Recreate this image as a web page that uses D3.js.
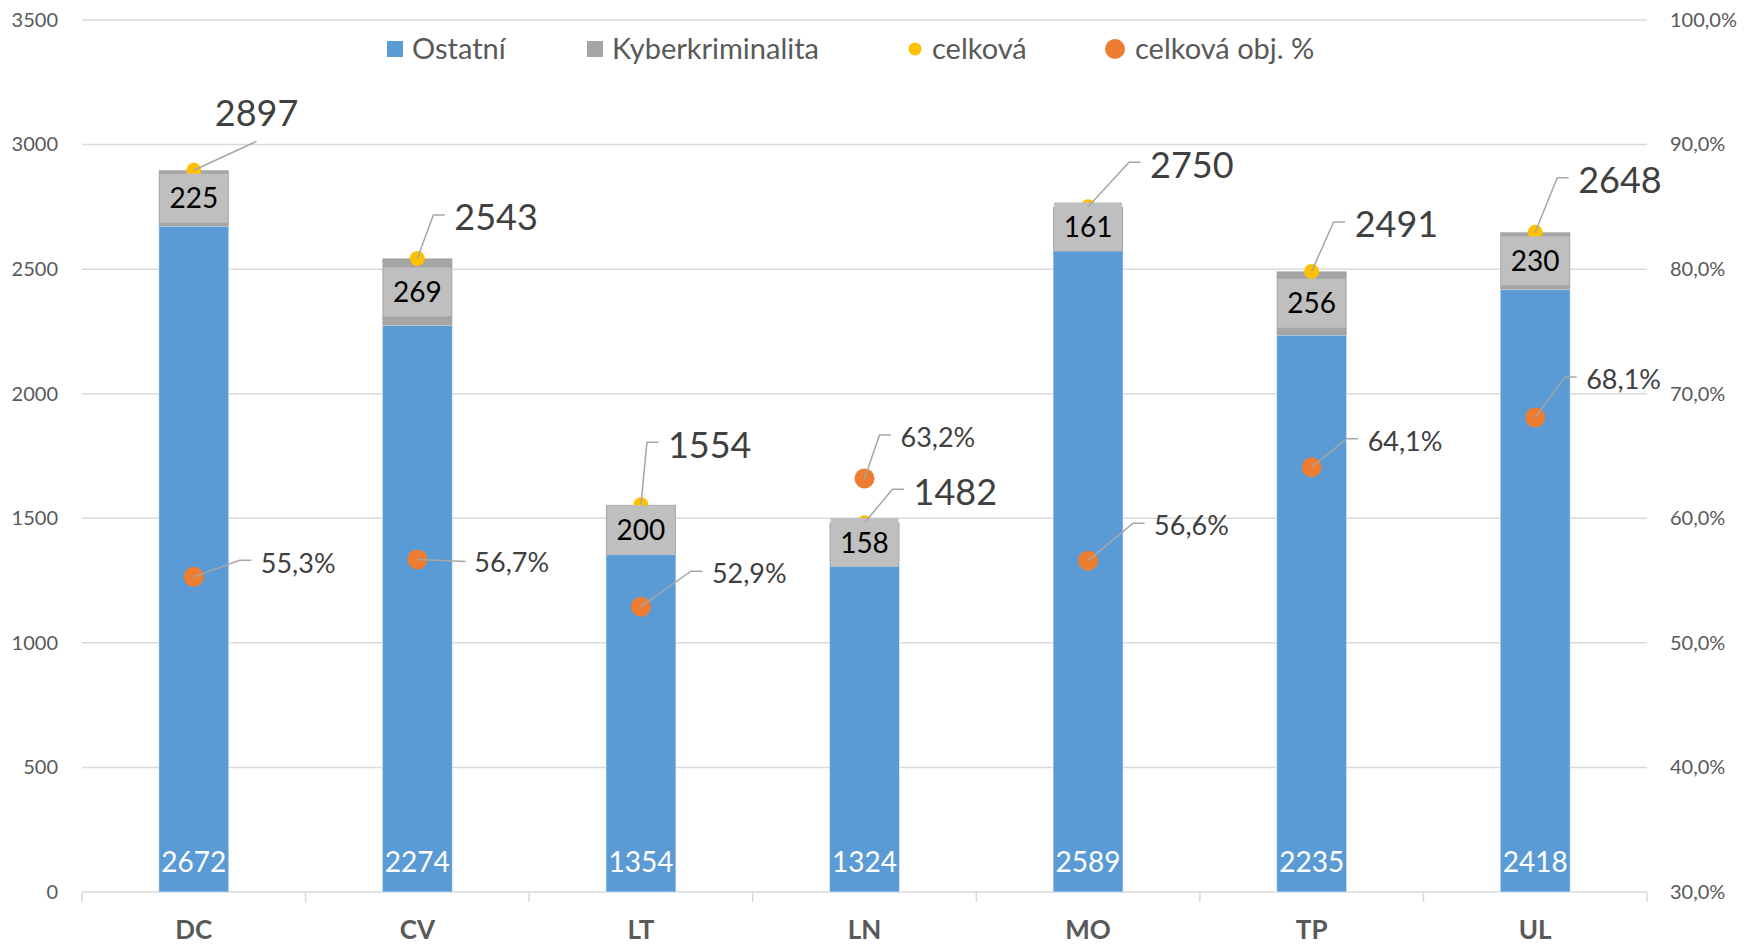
<!DOCTYPE html>
<html>
<head>
<meta charset="utf-8">
<script src="https://cdn.jsdelivr.net/npm/d3@7"></script>
<style>
  body { margin: 0; background: #fff; }
  svg { display: block; font-family: Lato, "Noto Sans", sans-serif; }
</style>
</head>
<body>
<div id="chart"></div>
<script>
//data
const categories = ['DC', 'CV', 'LT', 'LN', 'MO', 'TP', 'UL'];
const ostatni = [2672, 2274, 1354, 1324, 2589, 2235, 2418];
const kyber = [225, 269, 200, 158, 161, 256, 230];
const celkova = [2897, 2543, 1554, 1482, 2750, 2491, 2648];
const celkovaPct = [0.553, 0.567, 0.529, 0.632, 0.566, 0.641, 0.681];
const yTicks = [0, 500, 1000, 1500, 2000, 2500, 3000, 3500];
const y2Ticks = [0.3, 0.4, 0.5, 0.6, 0.7, 0.8, 0.9, 1.0];
const legendNames = ['Ostatní', 'Kyberkriminalita', 'celková', 'celková obj. %'];

//label placement (offset of text left/middle from its point, 's' = straight leader)
const totalOff = [[21, -57, 's'], [37, -41], [27, -60], [49, -31], [62, -42], [43, -47], [43, -52]];
const pctOff = [[67, -14], [57, 3, 's'], [71, -33], [36, -41], [66, -35], [56, -26], [51, -38]];

//specify d3 element attributes
const width = 1744;
const height = 946;
const margin = { top: 20, bottom: 54, left: 82, right: 97 };

const cz = d3.formatLocale({ decimal: ',', thousands: ' ', grouping: [3], currency: ['', ' Kč'] });
const pctFmt = cz.format('.1%');

const svg = d3.select('#chart')
  .append('svg')
  .attr('width', width)
  .attr('height', height)
  .attr('viewBox', [0, 0, width, height]);

//range x-axis
const x = d3.scaleBand()
  .domain(categories)
  .range([margin.left, width - margin.right])
  .paddingInner(0.687)
  .paddingOuter(0.3435);

//range y-axis (left: counts, right: percent)
const y = d3.scaleLinear()
  .domain([0, 3500])
  .range([height - margin.bottom, margin.top]);

const y2 = d3.scaleLinear()
  .domain([0.3, 1.0])
  .range([height - margin.bottom, margin.top]);

const cx = c => x(c) + x.bandwidth() / 2;

//gridlines
svg.append('g')
  .selectAll('line')
  .data(yTicks.slice(1))
  .join('line')
    .attr('x1', margin.left)
    .attr('x2', width - margin.right)
    .attr('y1', d => y(d))
    .attr('y2', d => y(d))
    .attr('stroke', '#d9d9d9')
    .attr('stroke-width', 1.5);

//design y-axis
const yAxis = (g) => {
  g.attr('transform', `translate(${margin.left}, 0)`)
    .call(d3.axisLeft(y).tickValues(yTicks).tickFormat(d3.format('d')).tickSize(0).tickPadding(24))
    .attr('font-size', '20px')
    .attr('font-family', 'Lato, sans-serif')
    .attr('color', '#595959')
    .call(g => g.select('.domain').remove());
}
const y2Axis = (g) => {
  g.attr('transform', `translate(${width - margin.right}, 0)`)
    .call(d3.axisRight(y2).tickValues(y2Ticks).tickFormat(pctFmt).tickSize(0).tickPadding(23))
    .attr('font-size', '20px')
    .attr('font-family', 'Lato, sans-serif')
    .attr('color', '#595959')
    .call(g => g.select('.domain').remove());
}
// design x-axis
const xAxis = (g) => {
  const step = x.step();
  g.attr('transform', `translate(0,${height - margin.bottom})`);
  g.append('line')
    .attr('x1', margin.left).attr('x2', width - margin.right)
    .attr('stroke', '#d9d9d9').attr('stroke-width', 1.5);
  g.selectAll('.tk')
    .data(d3.range(categories.length + 1))
    .join('line')
      .attr('class', 'tk')
      .attr('x1', i => margin.left + i * step)
      .attr('x2', i => margin.left + i * step)
      .attr('y2', 10)
      .attr('stroke', '#d9d9d9').attr('stroke-width', 1.5);
  g.selectAll('text')
    .data(categories)
    .join('text')
      .attr('x', d => cx(d))
      .attr('y', 38)
      .attr('dy', '0.36em')
      .attr('text-anchor', 'middle')
      .attr('font-size', '26px')
      .attr('font-weight', 'bold')
      .attr('fill', '#595959')
      .text(d => d);
}

svg.append('g').call(xAxis);
svg.append('g').call(yAxis);
svg.append('g').call(y2Axis);

//stacked bars
svg.append('g')
  .selectAll('rect')
  .data(categories)
  .join('rect')
    .attr('x', d => x(d))
    .attr('y', (d, i) => y(ostatni[i]))
    .attr('height', (d, i) => y(0) - y(ostatni[i]))
    .attr('width', x.bandwidth())
    .attr('fill', '#5b9bd5')
    .attr('stroke', '#fff')
    .attr('stroke-opacity', 0.5);

svg.append('g')
  .selectAll('rect')
  .data(categories)
  .join('rect')
    .attr('x', d => x(d))
    .attr('y', (d, i) => y(ostatni[i] + kyber[i]))
    .attr('height', (d, i) => y(ostatni[i]) - y(ostatni[i] + kyber[i]))
    .attr('width', x.bandwidth())
    .attr('fill', '#a5a5a5');

//celková points
svg.append('g')
  .selectAll('circle')
  .data(categories)
  .join('circle')
    .attr('cx', d => cx(d))
    .attr('cy', (d, i) => y(celkova[i]))
    .attr('r', 7.5)
    .attr('fill', '#ffc000');

//kyber label boxes
const boxH = 49;
const kyb = svg.append('g')
  .selectAll('g')
  .data(categories)
  .join('g')
    .attr('transform', (d, i) => `translate(${cx(d)},${(y(ostatni[i]) + y(ostatni[i] + kyber[i])) / 2})`);
kyb.append('rect')
  .attr('x', -x.bandwidth() / 2 + 1)
  .attr('y', -boxH / 2)
  .attr('width', x.bandwidth() - 2)
  .attr('height', boxH)
  .attr('fill', '#bfbfbf');
kyb.append('text')
  .attr('dy', '0.36em')
  .attr('text-anchor', 'middle')
  .attr('font-size', '28px')
  .attr('fill', '#000')
  .text((d, i) => kyber[i]);

//ostatní labels at base
svg.append('g')
  .selectAll('text')
  .data(categories)
  .join('text')
    .attr('x', d => cx(d))
    .attr('y', y(0) - 30)
    .attr('dy', '0.36em')
    .attr('text-anchor', 'middle')
    .attr('font-size', '28px')
    .attr('fill', '#fff')
    .text((d, i) => ostatni[i]);

//celková obj. % points
svg.append('g')
  .selectAll('circle')
  .data(categories)
  .join('circle')
    .attr('cx', d => cx(d))
    .attr('cy', (d, i) => y2(celkovaPct[i]))
    .attr('r', 10)
    .attr('fill', '#ed7d31');

//labels with leader lines
function callout(g, px, py, off, txt, size) {
  const tx = px + off[0], ty = py + off[1];
  const t = g.append('text')
    .attr('x', tx).attr('y', ty)
    .attr('dy', '0.36em')
    .attr('font-size', size + 'px')
    .attr('fill', '#404040')
    .text(txt);
  let pts;
  if (off[2] === 's') {
    const w = t.node().getComputedTextLength();
    pts = off[1] < -20 ? [[px, py], [tx + w / 2, ty + size * 0.78]] : [[px, py], [tx - 9, ty - 1]];
  } else {
    pts = [[px, py], [tx - 21, ty - 2.5], [tx - 9.5, ty - 2.5]];
  }
  g.insert('path', 'text')
    .attr('d', d3.line()(pts))
    .attr('fill', 'none')
    .attr('stroke', '#a6a6a6')
    .attr('stroke-width', 1.5);
}

const lab = svg.append('g');
categories.forEach((c, i) => {
  callout(lab, cx(c), y(celkova[i]), totalOff[i], celkova[i], 36);
  callout(lab, cx(c), y2(celkovaPct[i]), pctOff[i], pctFmt(celkovaPct[i]), 27);
});

//legend
const legendX = [387, 587, 907, 1107];
const legendColors = ['#5b9bd5', '#a5a5a5', '#ffc000', '#ed7d31'];
const legend = svg.append('g')
  .selectAll('g')
  .data(legendNames)
  .join('g')
    .attr('transform', (d, i) => `translate(${legendX[i]},49)`);
legend.each(function (d, i) {
  const g = d3.select(this);
  if (i < 2) {
    g.append('rect').attr('x', 0).attr('y', -8).attr('width', 16).attr('height', 16).attr('fill', legendColors[i]);
  } else {
    g.append('circle').attr('cx', 8).attr('r', i === 2 ? 6.5 : 10).attr('fill', legendColors[i]);
  }
  g.append('text')
    .attr('x', i === 3 ? 28 : 25)
    .attr('dy', '0.36em')
    .attr('font-size', '29px')
    .attr('fill', '#595959')
    .text(d);
});
</script>
</body>
</html>
